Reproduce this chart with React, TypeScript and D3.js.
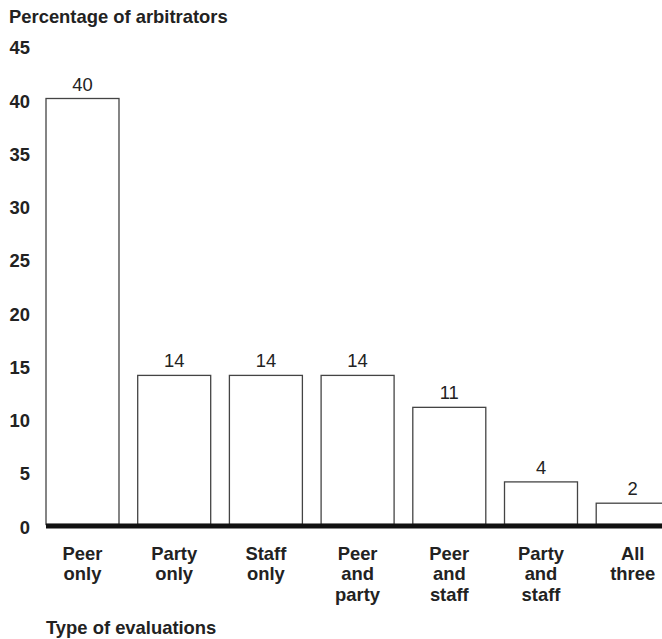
import React from "react";
import * as d3 from "d3";

const categories: string[][] = [
  ["Peer", "only"],
  ["Party", "only"],
  ["Staff", "only"],
  ["Peer", "and", "party"],
  ["Peer", "and", "staff"],
  ["Party", "and", "staff"],
  ["All", "three"],
];
const values: number[] = [40, 14, 14, 14, 11, 4, 2];
const yTicks: number[] = [0, 5, 10, 15, 20, 25, 30, 35, 40, 45];
const yTitle = "Percentage of arbitrators";
const xTitle = "Type of evaluations";

const W = 662;
const H = 639;
const FONT = "'Liberation Sans', Arial, Helvetica, sans-serif";
const FS = 18.4;

export default function App() {
  const keys = categories.map((c) => c.join(" "));
  const x = d3
    .scaleBand<string>()
    .domain(keys)
    .range([36.65, 36.65 + 7 * 91.7])
    .paddingInner(0.204)
    .paddingOuter(0.102);
  const y = d3.scaleLinear().domain([0, 45]).range([524.5, 45.25]);

  return (
    <svg
      width={W}
      height={H}
      style={{ position: "absolute", left: 0, top: 0, display: "block" }}
      fontFamily={FONT}
    >
      <rect width={W} height={H} fill="#fff" />
      <text x={9} y={22.5} fontSize={FS} fontWeight="bold" fill="#222">
        {yTitle}
      </text>
      {yTicks.map((t) => (
        <text
          key={t}
          x={30}
          y={y(t) + 2.5}
          dy="0.36em"
          textAnchor="end"
          fontSize={FS}
          fontWeight="bold"
          fill="#222"
        >
          {t}
        </text>
      ))}
      {values.map((v, i) => {
        const k = keys[i];
        const x0 = x(k)!;
        const bw = x.bandwidth();
        return (
          <g key={k}>
            <rect
              x={x0}
              y={y(v)}
              width={bw}
              height={y(0) - y(v)}
              fill="#fff"
              stroke="#444"
              strokeWidth={1.3}
            />
            <text
              x={x0 + bw / 2}
              y={y(v) - 8}
              textAnchor="middle"
              fontSize={FS}
              fill="#222"
            >
              {v}
            </text>
            {categories[i].map((line, j) => (
              <text
                key={j}
                x={x0 + bw / 2}
                y={559.5 + j * 20.5}
                textAnchor="middle"
                fontSize={FS}
                fontWeight="bold"
                fill="#222"
              >
                {line}
              </text>
            ))}
          </g>
        );
      })}
      <line x1={46} x2={W} y1={526} y2={526} stroke="#111" strokeWidth={5} />
      <text x={46} y={633.5} fontSize={FS} fontWeight="bold" fill="#222">
        {xTitle}
      </text>
    </svg>
  );
}
